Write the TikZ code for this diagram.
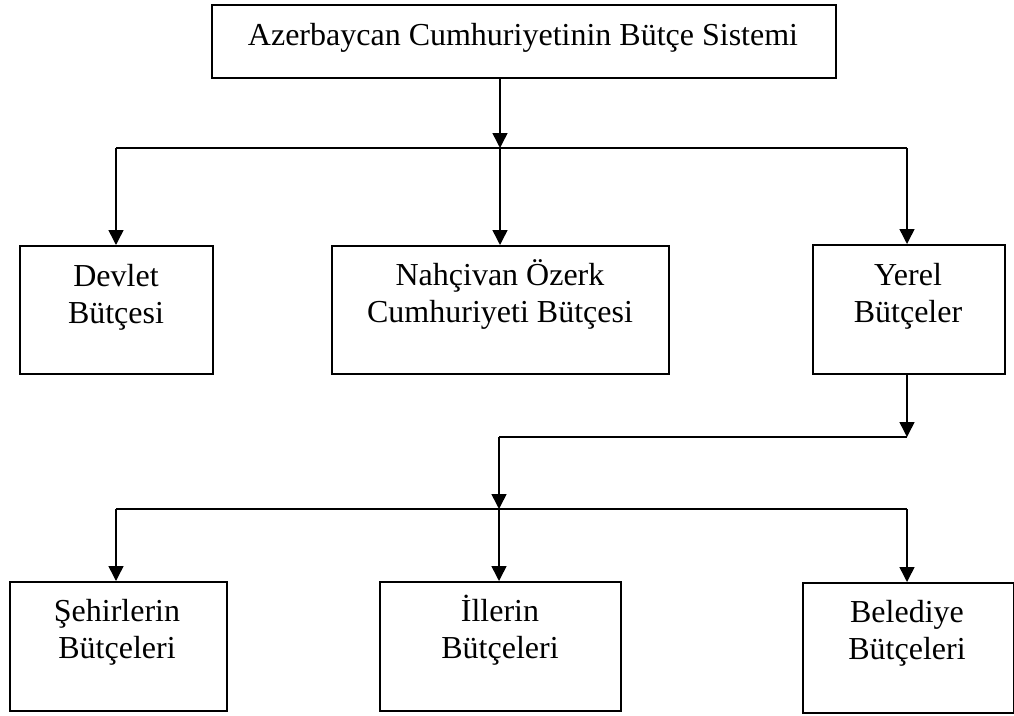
\documentclass[tikz,border=0pt]{standalone}
\usepackage{fontspec}
\setmainfont{Liberation Serif}
\usetikzlibrary{arrows.meta}
\begin{document}
\begin{tikzpicture}[x=1pt,y=-1pt,
  box/.style={draw, line width=1.5pt, inner sep=0pt, anchor=north west},
  lbl/.style={font=\fontsize{32}{37}\selectfont, align=center, inner sep=0pt, anchor=base},
  conn/.style={line width=1.5pt},
  arr/.style={conn, -{Triangle[length=15pt,width=15pt]}}]
\useasboundingbox (0,0) rectangle (1014,715);
% boxes
\node[box, minimum width=624pt, minimum height=73pt] (top) at (211,4) {};
\node[lbl] (topt) at (523,45) {Azerbaycan Cumhuriyetinin Bütçe Sistemi};
\node[box, minimum width=193pt, minimum height=128pt] (dev) at (19,245) {};
\node[lbl] (devt) at (116,323) {Devlet\\Bütçesi};
\node[box, minimum width=337pt, minimum height=128pt] (nah) at (331,245) {};
\node[lbl] (naht) at (500,322) {Nahçivan Özerk\\Cumhuriyeti Bütçesi};
\node[box, minimum width=192pt, minimum height=129pt] (yer) at (812,244) {};
\node[lbl] (yert) at (908,322) {Yerel\\Bütçeler};
\node[box, minimum width=217pt, minimum height=129pt] (seh) at (9,581) {};
\node[lbl] (seht) at (117,658) {Şehirlerin\\Bütçeleri};
\node[box, minimum width=241pt, minimum height=129pt] (ill) at (379,581) {};
\node[lbl] (illt) at (500,658) {İllerin\\Bütçeleri};
\node[box, minimum width=211pt, minimum height=130pt] (bel) at (802,582) {};
\node[lbl] (belt) at (907,659) {Belediye\\Bütçeleri};
% junctions
\coordinate (j1) at (500,148);
\coordinate (j1l) at (116,148);
\coordinate (j1r) at (907,148);
\coordinate (j2r) at (907,437);
\coordinate (j2l) at (499,437);
\coordinate (j3) at (499,509);
\coordinate (j3l) at (116,509);
\coordinate (j3r) at (907,509);
% connectors
\draw[arr] (top.south -| j1) -- (j1);
\draw[conn] (j1l) -- (j1r);
\draw[arr] (j1l) -- (j1l |- dev.north);
\draw[arr] (j1) -- (j1 |- nah.north);
\draw[arr] (j1r) -- (j1r |- yer.north);
\draw[arr] (yer.south -| j2r) -- (j2r);
\draw[conn] (j2r) -- (j2l);
\draw[arr] (j2l) -- (j3);
\draw[conn] (j3l) -- (j3r);
\draw[arr] (j3l) -- (j3l |- seh.north);
\draw[arr] (j3) -- (j3 |- ill.north);
\draw[arr] (j3r) -- (j3r |- bel.north);
\end{tikzpicture}
\end{document}
